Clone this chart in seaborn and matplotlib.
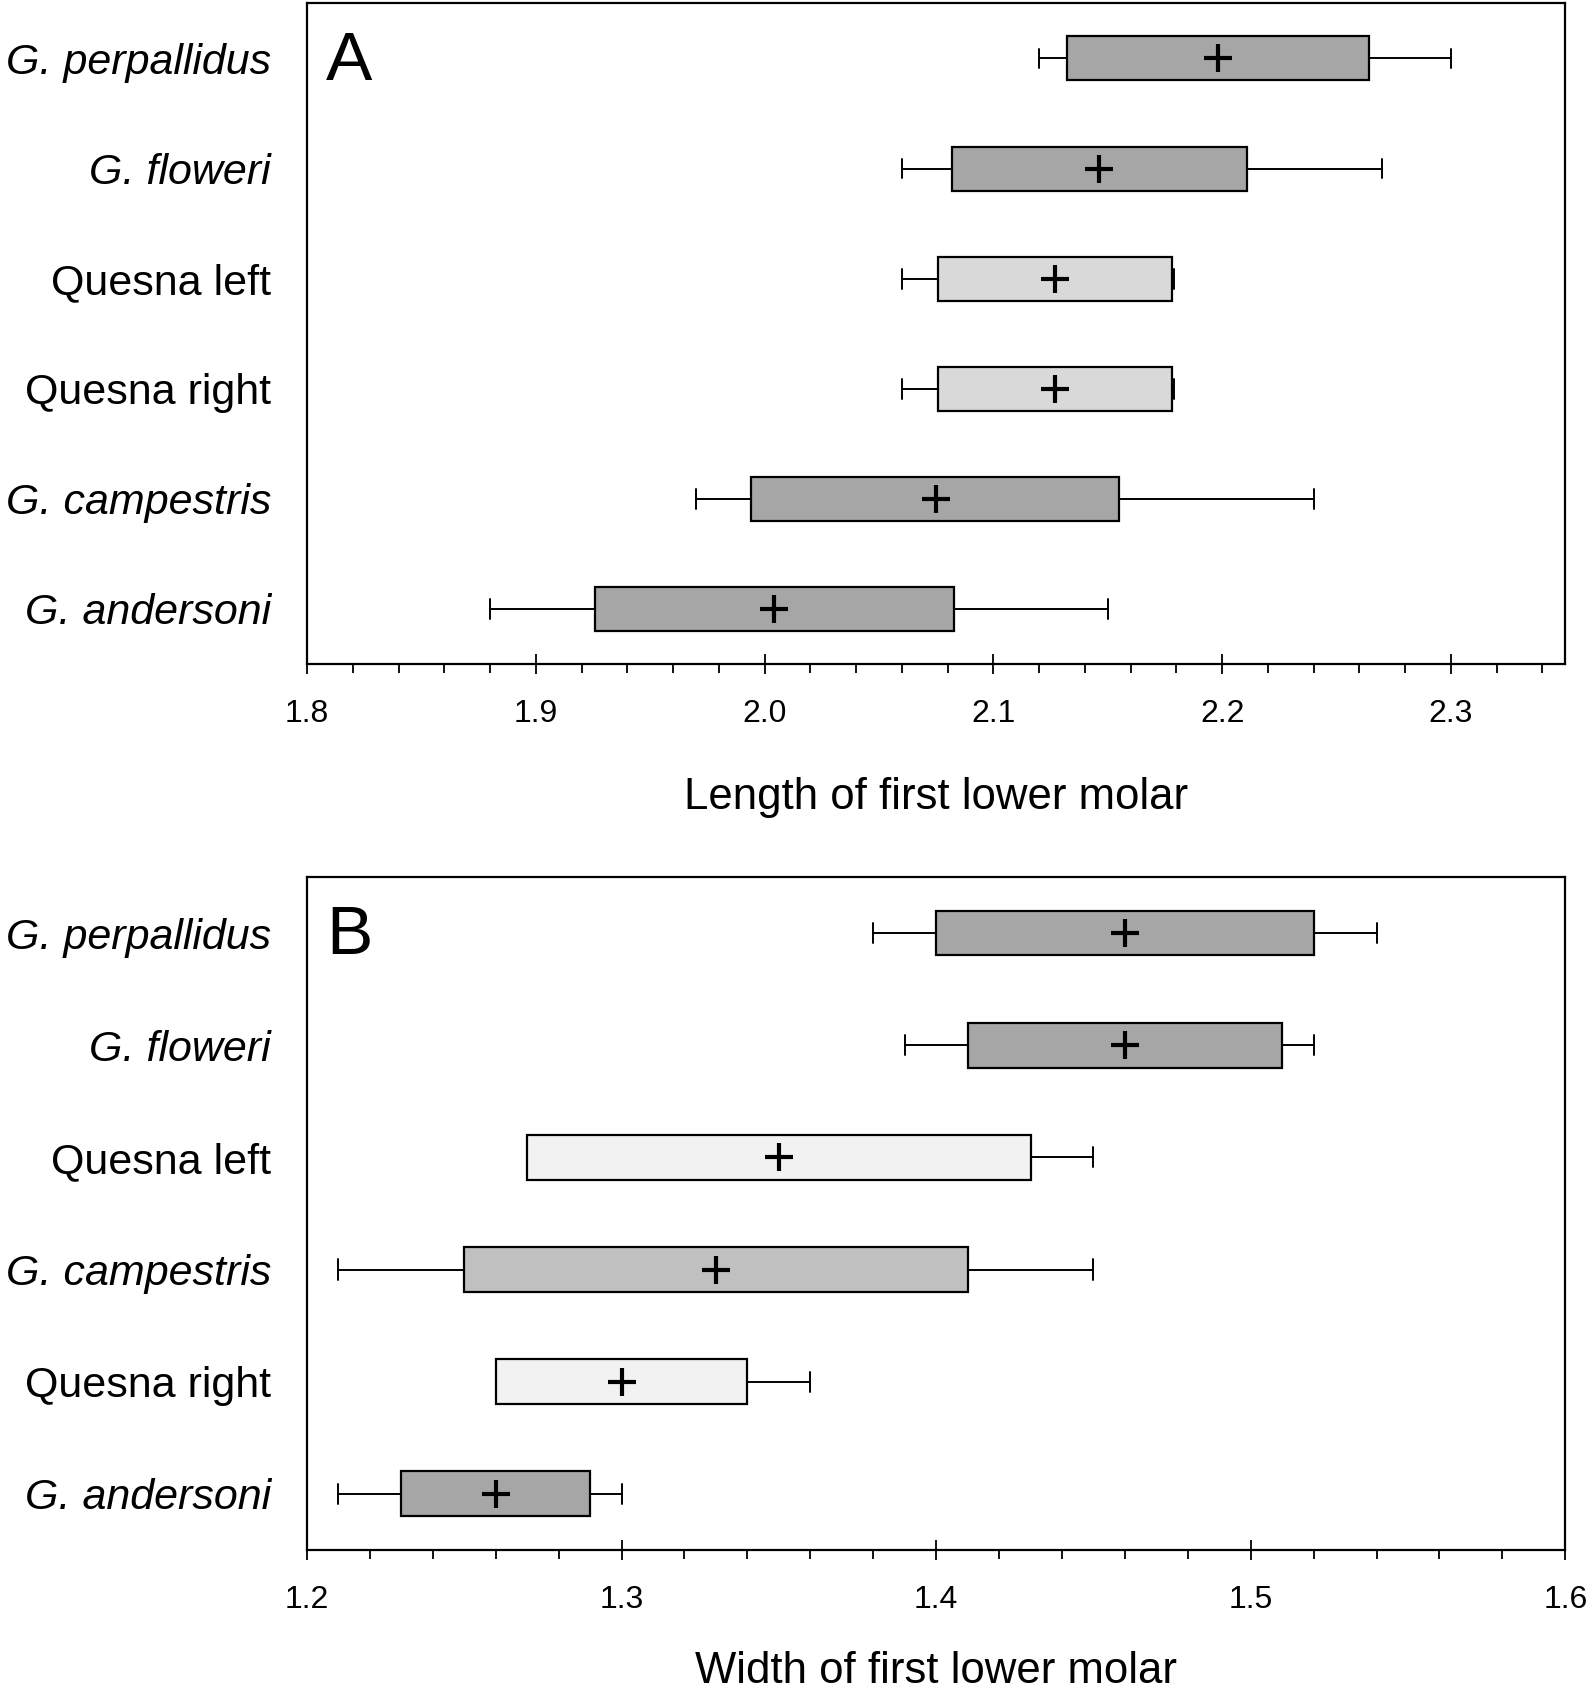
import numpy as np
import seaborn as sns
import matplotlib.pyplot as plt
from matplotlib.ticker import MultipleLocator

# panel A: length of first lower molar (top row first)
labels_a = ["G. perpallidus", "G. floweri", "Quesna left", "Quesna right", "G. campestris", "G. andersoni"]
min_a = [2.12, 2.06, 2.06, 2.06, 1.97, 1.88]
q1_a = [2.132, 2.082, 2.076, 2.076, 1.994, 1.926]
q3_a = [2.264, 2.211, 2.178, 2.178, 2.155, 2.083]
max_a = [2.30, 2.27, 2.179, 2.179, 2.24, 2.15]
mean_a = [2.198, 2.146, 2.127, 2.127, 2.075, 2.004]
col_a = ["#a6a6a6", "#a6a6a6", "#d9d9d9", "#d9d9d9", "#a6a6a6", "#a6a6a6"]

# panel B: width of first lower molar
labels_b = ["G. perpallidus", "G. floweri", "Quesna left", "G. campestris", "Quesna right", "G. andersoni"]
min_b = [1.38, 1.39, 1.27, 1.21, 1.26, 1.21]
q1_b = [1.40, 1.41, 1.27, 1.25, 1.26, 1.23]
q3_b = [1.52, 1.51, 1.43, 1.41, 1.34, 1.29]
max_b = [1.54, 1.52, 1.45, 1.45, 1.36, 1.30]
mean_b = [1.46, 1.46, 1.35, 1.33, 1.30, 1.26]
col_b = ["#a6a6a6", "#a6a6a6", "#f2f2f2", "#c0c0c0", "#f2f2f2", "#a6a6a6"]

sns.set_style("ticks")
plt.rcParams['font.family'] = ['Liberation Sans', 'DejaVu Sans']
for k in ["text.color", "axes.labelcolor", "xtick.color", "ytick.color", "axes.edgecolor"]:
    plt.rcParams[k] = "black"


def draw_panel(ax, labels, mins, q1s, q3s, maxs, means, colors, xlim, xlabel, letter, lpad):
    stats = []
    for i in range(len(labels)):
        stats.append(dict(med=means[i], q1=q1s[i], q3=q3s[i], whislo=mins[i],
                          whishi=maxs[i], mean=means[i], fliers=[]))
    pos = np.arange(len(labels))
    bp = ax.bxp(stats, positions=pos, vert=False, widths=0.4, patch_artist=True,
                showmeans=True, showfliers=False, capwidths=0.18,
                boxprops=dict(edgecolor="black", linewidth=1.6),
                whiskerprops=dict(color="black", linewidth=1.4),
                capprops=dict(color="black", linewidth=1.4),
                medianprops=dict(visible=False),
                meanprops=dict(marker="+", markersize=20, markeredgewidth=3,
                               markeredgecolor="black"))
    for patch, c in zip(bp["boxes"], colors):
        patch.set_facecolor(c)
    ax.set_ylim(len(labels) - 0.5, -0.5)
    ax.set_yticks(pos)
    ax.set_yticklabels(labels)
    for t in ax.get_yticklabels():
        if t.get_text().startswith("G."):
            t.set_style("italic")
    ax.tick_params(axis="y", length=0, pad=26, labelsize=31)
    ax.set_xlim(*xlim)
    ax.xaxis.set_major_locator(MultipleLocator(0.1))
    ax.xaxis.set_minor_locator(MultipleLocator(0.02))
    ax.xaxis.set_major_formatter(plt.FormatStrFormatter("%.1f"))
    ax.tick_params(axis="x", which="major", direction="inout", length=15, width=1.3,
                   labelsize=23, pad=18)
    ax.tick_params(axis="x", which="minor", direction="out", length=6.5, width=1.3)
    ax.set_xlabel(xlabel, fontsize=31.5, labelpad=lpad)
    for s in ax.spines.values():
        s.set_linewidth(1.6)
    ax.text(0.015, 0.96, letter, transform=ax.transAxes, fontsize=50,
            va="top", ha="left")


fig = plt.figure(figsize=(15.94, 16.91), dpi=100)
ax_a = fig.add_axes([0.1926, 0.6073, 0.7894, 0.3907])
ax_b = fig.add_axes([0.1926, 0.0834, 0.7894, 0.398])

draw_panel(ax_a, labels_a, min_a, q1_a, q3_a, max_a, mean_a, col_a,
           (1.8, 2.35), "Length of first lower molar", "A", 34)
draw_panel(ax_b, labels_b, min_b, q1_b, q3_b, max_b, mean_b, col_b,
           (1.2, 1.6), "Width of first lower molar", "B", 26)

fig.savefig("out.png", dpi=100)
